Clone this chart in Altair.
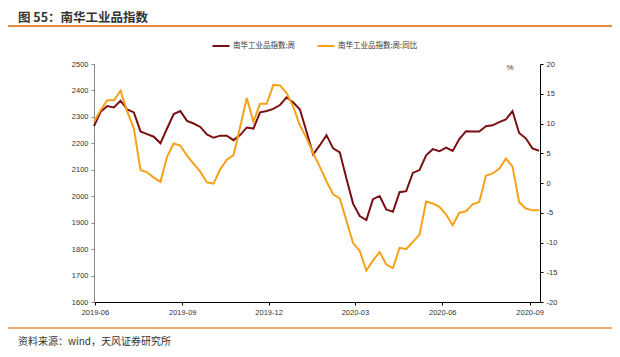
import altair as alt
import pandas as pd

# ---- data (weekly) ----
start_date = "2019-05-31"
n_weeks = 68
dates = pd.date_range(start_date, periods=n_weeks, freq="7D").strftime("%Y-%m-%d").tolist()

series_names = ["南华工业品指数:周", "南华工业品指数:周:同比"]

index_vals = [
    2265, 2319, 2341, 2336, 2361, 2328, 2317, 2245, 2235, 2225,
    2200, 2256, 2311, 2322, 2285, 2275, 2262, 2234, 2221, 2229,
    2229, 2212, 2231, 2260, 2256, 2317, 2322, 2330, 2345, 2374,
    2354, 2328, 2244, 2158, 2193, 2231, 2181, 2166, 2067, 1972,
    1925, 1910, 1989, 2001, 1950, 1941, 2015, 2019, 2088, 2099,
    2155, 2178, 2170, 2184, 2171, 2216, 2246, 2245, 2245, 2265,
    2268, 2280, 2290, 2322, 2239, 2219, 2181, 2172,
]

yoy_vals = [
    10.3, 12.25, 13.9, 13.9, 15.5, 12.0, 9.2, 2.2, 1.8, 0.9,
    0.2, 4.4, 6.65, 6.3, 4.6, 3.2, 1.9, 0.1, -0.1, 2.3,
    3.9, 4.7, 9.4, 14.3, 10.3, 13.3, 13.3, 16.5, 16.4, 15.1,
    12.8, 9.7, 7.5, 5.0, 2.7, 0.3, -1.9, -2.6, -6.3, -10.1,
    -11.4, -14.7, -13.0, -11.6, -13.7, -14.3, -10.9, -11.1, -9.9, -8.7,
    -3.1, -3.45, -4.0, -5.3, -7.1, -5.0, -4.75, -3.6, -3.2, 1.2,
    1.6, 2.4, 4.1, 2.8, -3.2, -4.3, -4.6, -4.6,
]

left_ticks = list(range(1600, 2501, 100))
right_ticks = list(range(-20, 21, 5))
x_tick_months = [(2019, 6), (2019, 9), (2019, 12), (2020, 3), (2020, 6), (2020, 9)]

title_text = "图 55：南华工业品指数"
source_text = "资料来源：wind，天风证券研究所"

colors = ["#7A0F12", "#F5A21B"]
rule_color = "#E38B3A"
cjk = "Noto Sans CJK SC"
latin = "Liberation Sans"

df = pd.DataFrame({
    "date": dates * 2,
    "value": index_vals + yoy_vals,
    "series": [series_names[0]] * n_weeks + [series_names[1]] * n_weeks,
})

x_enc = alt.X(
    "date:T",
    scale=alt.Scale(
        type="utc",
        domain=[alt.DateTime(year=2019, month=5, date=31, utc=True),
                alt.DateTime(year=2020, month=9, date=12, utc=True)],
        nice=False,
    ),
    axis=alt.Axis(
        values=[alt.DateTime(year=y, month=m, date=1, utc=True) for y, m in x_tick_months],
        format="%Y-%m",
        title=None,
        grid=False,
        domainColor="#000000",
        domainWidth=1,
        tickColor="#000000",
        tickSize=3,
        labelFont=latin,
        labelFontSize=7.5,
        labelColor="#333333",
        labelPadding=3,
        labelFlush=False,
    ),
)

color_enc = alt.Color(
    "series:N",
    scale=alt.Scale(domain=series_names, range=colors),
    legend=alt.Legend(
        orient="none",
        legendX=117,
        legendY=-28,
        direction="horizontal",
        title=None,
        symbolType="stroke",
        symbolStrokeWidth=2,
        symbolSize=290,
        labelFont=cjk,
        labelFontSize=7.5,
        labelColor="#333333",
        columnPadding=17,
        labelOffset=2,
    ),
)

base = alt.Chart(df)

left_line = base.transform_filter(alt.datum.series == series_names[0]).mark_line(
    strokeWidth=2
).encode(
    x=x_enc,
    y=alt.Y(
        "value:Q",
        scale=alt.Scale(domain=[1600, 2500], nice=False, zero=False),
        axis=alt.Axis(
            orient="left",
            values=left_ticks,
            format="d",
            title=None,
            grid=False,
            domainColor="#888888",
            tickColor="#888888",
            tickSize=3,
            labelFont=latin,
            labelFontSize=7.5,
            labelColor="#333333",
            labelPadding=3,
        ),
    ),
    color=color_enc,
)

right_line = base.transform_filter(alt.datum.series == series_names[1]).mark_line(
    strokeWidth=2
).encode(
    x=alt.X("date:T"),
    y=alt.Y(
        "value:Q",
        scale=alt.Scale(domain=[-20, 20], nice=False, zero=False),
        axis=alt.Axis(
            orient="right",
            values=right_ticks,
            title=None,
            grid=False,
            domainColor="#000000",
            tickColor="#000000",
            tickSize=3,
            labelFont=latin,
            labelFontSize=7.5,
            labelColor="#333333",
            labelPadding=3,
            labelExpr="'' + datum.value",
        ),
    ),
    color=color_enc,
)

one = alt.Data(values=[{}])

title_mark = alt.Chart(one).mark_text(
    align="left", baseline="middle", font=cjk, fontSize=12.5, fontWeight="bold", color="#333333"
).encode(x=alt.value(-76), y=alt.value(-46), text=alt.value(title_text))

top_rule = alt.Chart(one).mark_rule(color=rule_color, strokeWidth=2).encode(
    x=alt.value(-86), x2=alt.value(518), y=alt.value(-38)
)

bottom_rule = alt.Chart(one).mark_rule(color=rule_color, strokeWidth=1.5).encode(
    x=alt.value(-86), x2=alt.value(518), y=alt.value(264)
)

source_mark = alt.Chart(one).mark_text(
    align="left", baseline="middle", font=cjk, fontSize=10, color="#333333"
).encode(x=alt.value(-76), y=alt.value(278), text=alt.value(source_text))

pct_mark = alt.Chart(one).mark_text(
    align="center", baseline="middle", font=latin, fontSize=8, color="#333333"
).encode(x=alt.value(416), y=alt.value(4), text=alt.value("%"))

chart = alt.layer(
    left_line, right_line, title_mark, top_rule, bottom_rule, source_mark, pct_mark
).resolve_scale(
    y="independent"
).properties(
    width=446,
    height=238,
    autosize=alt.AutoSizeParams(type="none"),
    padding={"left": 86, "top": 56, "right": 72, "bottom": 47},
    background="#ffffff",
).configure_view(
    strokeWidth=0
)

chart.save("out.html", embed_options={"renderer": "svg", "actions": False})
